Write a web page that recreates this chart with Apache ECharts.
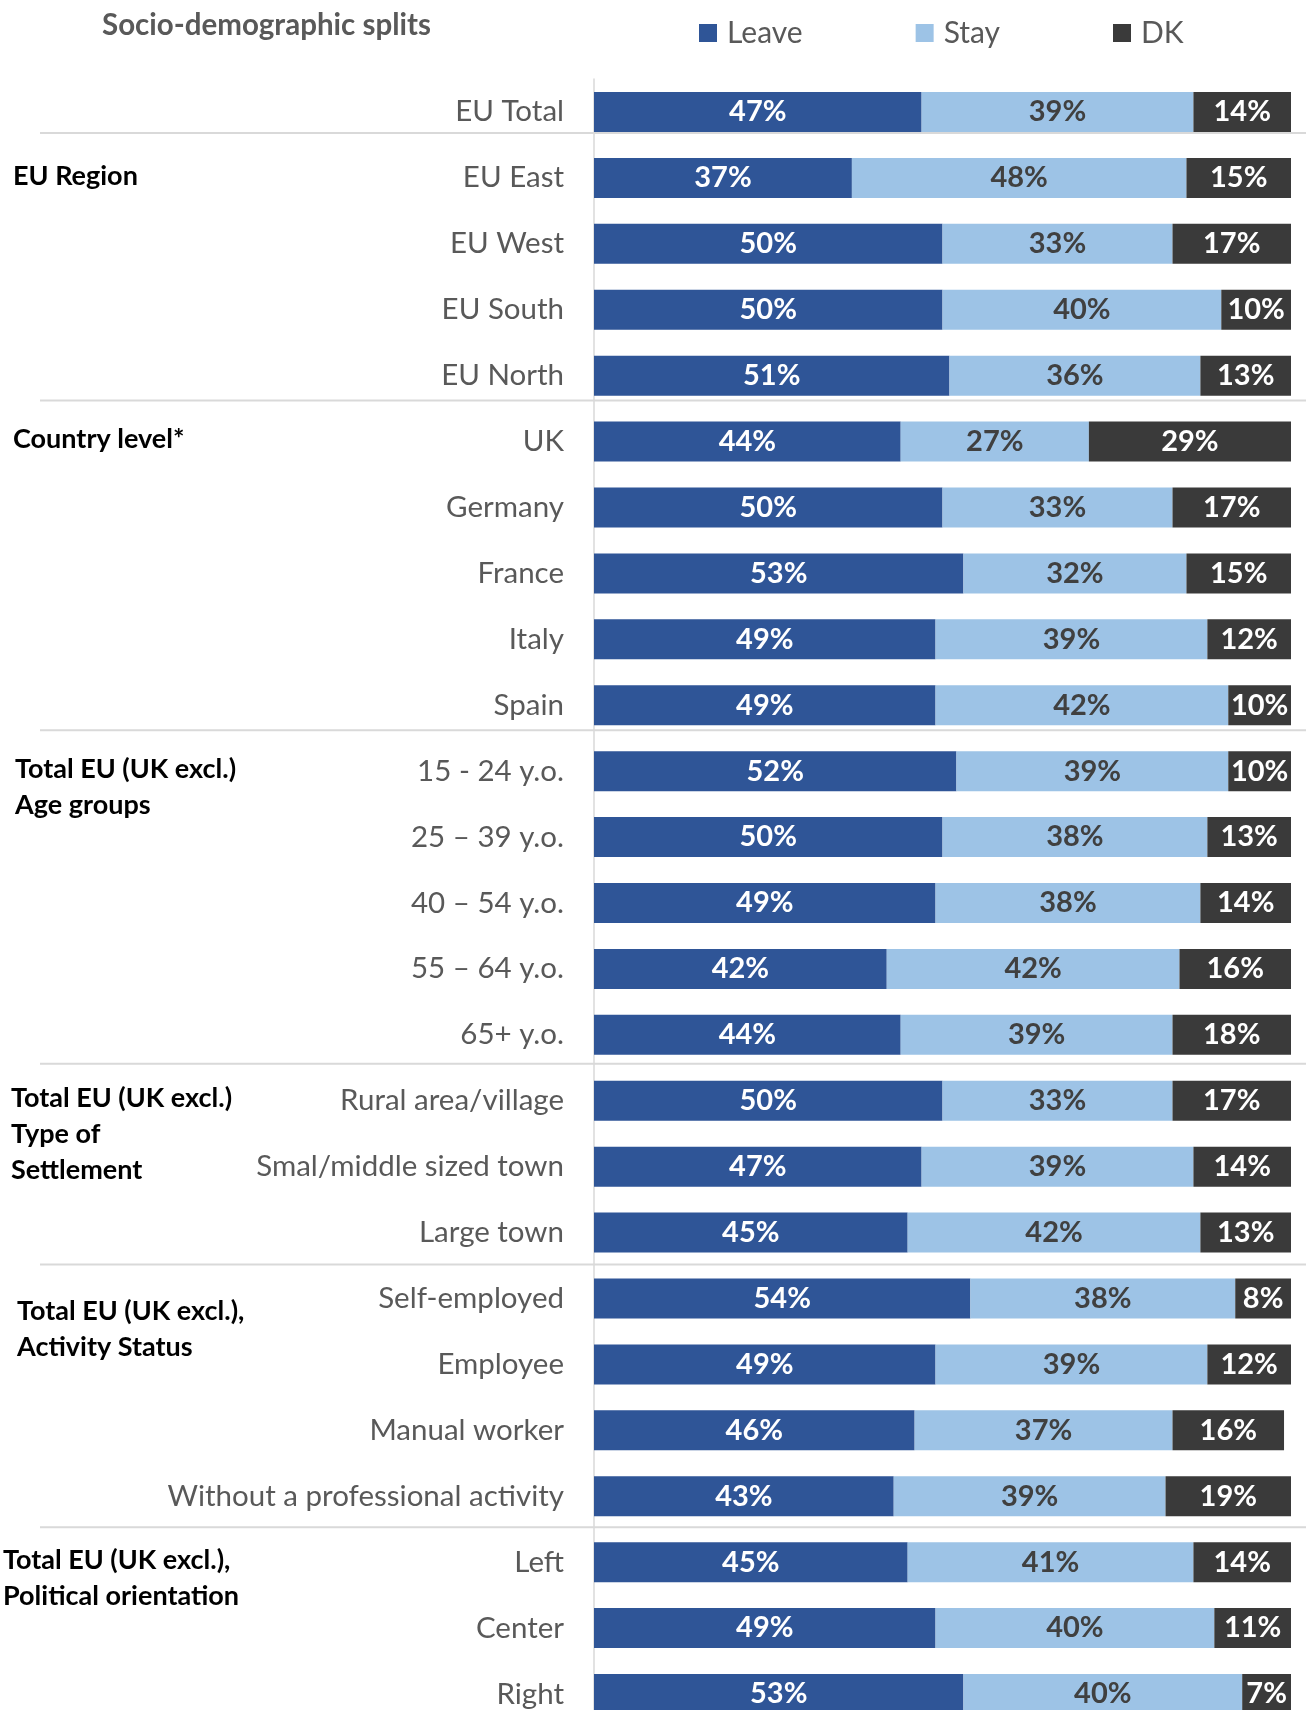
<!DOCTYPE html>
<html>
<head>
<meta charset="utf-8">
<script src="https://cdn.jsdelivr.net/npm/echarts@6/dist/echarts.min.js"></script>
<style>
  html, body { margin: 0; padding: 0; background: #fff; overflow: hidden; }
  /* the last row runs past the bottom of the picture, so the chart box is taller than the window */
  #chart { width: 1306px; height: 1730px; }
</style>
</head>
<body>
<div id="chart"></div>
<script>
// rows, top to bottom
var categories = [
  'EU Total',
  'EU East', 'EU West', 'EU South', 'EU North',
  'UK', 'Germany', 'France', 'Italy', 'Spain',
  '15 - 24 y.o.', '25 – 39 y.o.', '40 – 54 y.o.', '55 – 64 y.o.', '65+ y.o.',
  'Rural area/village', 'Smal/middle sized town', 'Large town',
  'Self-employed', 'Employee', 'Manual worker', 'Without a professional activity',
  'Left', 'Center', 'Right'
];
var leave = [47, 37, 50, 50, 51, 44, 50, 53, 49, 49, 52, 50, 49, 42, 44, 50, 47, 45, 54, 49, 46, 43, 45, 49, 53];
var stay  = [39, 48, 33, 40, 36, 27, 33, 32, 39, 42, 39, 38, 38, 42, 39, 33, 39, 42, 38, 39, 37, 39, 41, 40, 40];
var dk    = [14, 15, 17, 10, 13, 29, 17, 15, 12, 10, 10, 13, 14, 16, 18, 17, 14, 13, 8, 12, 16, 19, 14, 11, 7];

// group headings (first row of each group)
var groupNames = [
  'EU Region',
  'Country level*',
  'Total EU (UK excl.)\nAge groups',
  'Total EU (UK excl.)\nType of\nSettlement',
  'Total EU (UK excl.),\nActivity Status',
  'Total EU (UK excl.),\nPolitical orientation'
];
var groupStart = [1, 5, 10, 15, 18, 22];

// layout tweaks for headings and separator lines
var groupX = [13, 13, 15, 11, 17, 3];
var groupDy = [0, 0, 0, 0, 15, 0];
var sepDy = [-12, -8, -8, -4, -1, -2];

var font = 'Lato, "Noto Sans", sans-serif';
var colors = ['#2F5597', '#9DC3E6', '#3A3A3A'];

var myChart = echarts.init(document.getElementById('chart'));

function barSeries(name, data, color, labelColor) {
    return {
        name: name,
        type: 'bar',
        stack: 'total',
        barWidth: 40,
        data: data,
        itemStyle: { color: color },
        label: {
            show: true,
            position: 'inside',
            formatter: '{c}%',
            color: labelColor,
            fontFamily: font,
            fontWeight: 'bold',
            fontSize: 29
        },
        emphasis: { disabled: true }
    };
}

var option = {
    backgroundColor: '#fff',
    animation: false,
    color: colors,
    title: {
        text: 'Socio-demographic splits',
        left: 102,
        top: 10,
        padding: 0,
        textStyle: { color: '#595959', fontFamily: font, fontWeight: 'bold', fontSize: 29.5 }
    },
    legend: {
        left: 694,
        top: 13,
        itemWidth: 18,
        itemHeight: 18,
        itemGap: 113,
        icon: 'rect',
        textStyle: { color: '#595959', fontFamily: font, fontSize: 30, padding: [0, 0, 0, 5] },
        data: ['Leave', 'Stay', 'DK']
    },
    grid: {
        left: 594,
        top: 79,
        width: 697,
        height: 1648,
        containLabel: false
    },
    xAxis: {
        type: 'value',
        min: 0,
        max: 100,
        show: false
    },
    yAxis: {
        type: 'category',
        inverse: true,
        data: categories,
        axisLine: { show: true, lineStyle: { color: '#D9D9D9', width: 1.5 } },
        axisTick: { show: false },
        axisLabel: { margin: 30, color: '#595959', fontFamily: font, fontSize: 29.5 },
        splitLine: { show: false }
    },
    series: [
        barSeries('Leave', leave, colors[0], '#fff'),
        barSeries('Stay', stay, colors[1], '#404040'),
        barSeries('DK', dk, colors[2], '#fff')
    ]
};
myChart.setOption(option);

// headings and separators placed from the category axis
var graphics = [];
for (var i = 0; i < groupStart.length; i++) {
    var yFirst = myChart.convertToPixel({ yAxisIndex: 0 }, categories[groupStart[i]]);
    var yPrev = myChart.convertToPixel({ yAxisIndex: 0 }, categories[groupStart[i] - 1]);
    var ySep = (yFirst + yPrev) / 2 + sepDy[i];
    graphics.push({
        type: 'line',
        shape: { x1: 40, y1: ySep, x2: 1306, y2: ySep },
        style: { stroke: '#D9D9D9', lineWidth: 2 },
        z: 0
    });
    graphics.push({
        type: 'text',
        left: groupX[i],
        top: yFirst - 20 + groupDy[i],
        style: {
            text: groupNames[i],
            fill: '#000',
            font: 'bold 27px ' + font,
            lineHeight: 36
        }
    });
}
myChart.setOption({ graphic: graphics });
</script>
</body>
</html>
